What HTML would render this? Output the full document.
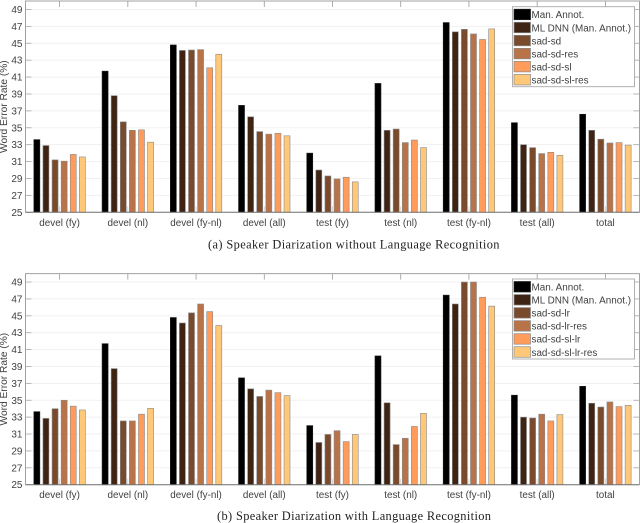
<!DOCTYPE html>
<html>
<head>
<meta charset="utf-8">
<style>
html,body{margin:0;padding:0;background:#fff;}
svg{display:block;filter:blur(0.35px);}
text{font-family:"Liberation Sans",sans-serif;fill:#404040;font-size:9.9px;}
.cap{font-family:"Liberation Serif",serif;fill:#222;font-size:12.4px;}
</style>
</head>
<body>
<svg id="fig" width="640" height="523" viewBox="0 0 640 523" xmlns="http://www.w3.org/2000/svg">
<text class="cap" x="208" y="248.5" textLength="291.5" lengthAdjust="spacing">(a) Speaker Diarization without Language Recognition</text>
<text class="cap" x="217" y="520" textLength="274" lengthAdjust="spacing">(b) Speaker Diarization with Language Recognition</text>
</svg>
<script>
const categories = ['devel (fy)','devel (nl)','devel (fy-nl)','devel (all)','test (fy)','test (nl)','test (fy-nl)','test (all)','total'];
const yTicks = [25,27,29,31,33,35,37,39,41,43,45,47,49];
const colors = ['#000000','#3f2414','#7a4a2c','#b87348','#ff9c5c','#ffc878'];
const legendA = ['Man. Annot.','ML DNN (Man. Annot.)','sad-sd','sad-sd-res','sad-sd-sl','sad-sd-sl-res'];
const legendB = ['Man. Annot.','ML DNN (Man. Annot.)','sad-sd-lr','sad-sd-lr-res','sad-sd-sl-lr','sad-sd-sl-lr-res'];

const a1 = [33.6,41.7,44.8,37.65,32,40.25,47.45,35.6,36.6];
const a2 = [32.9,38.8,44.15,36.3,30,34.7,46.35,33,34.7];
const a3 = [31.2,35.7,44.2,34.55,29.3,34.85,46.65,32.65,33.65];
const a4 = [31.05,34.7,44.25,34.25,28.95,33.25,46.1,31.95,33.2];
const a5 = [31.85,34.75,42.1,34.35,29.15,33.55,45.45,32.1,33.25];
const a6 = [31.55,33.3,43.7,34.05,28.6,32.65,46.7,31.75,32.95];

const b1 = [33.65,41.7,44.8,37.65,32,40.25,47.45,35.6,36.65];
const b2 = [32.85,38.75,44.15,36.35,30,34.7,46.4,33,34.65];
const b3 = [34,32.55,45.35,35.45,30.95,29.75,49,32.9,34.2];
const b4 = [35,32.55,46.4,36.2,31.4,30.5,49,33.35,34.8];
const b5 = [34.3,33.35,45.5,35.9,30.1,31.9,47.2,32.55,34.25];
const b6 = [33.85,34.05,43.85,35.55,30.95,33.45,46.15,33.3,34.4];

const NS = 'http://www.w3.org/2000/svg';
const fig = document.getElementById('fig');

function mk(parent, tag, attrs) {
  const el = document.createElementNS(NS, tag);
  for (const k in attrs) el.setAttribute(k, attrs[k]);
  parent.appendChild(el);
  return el;
}

function drawChart(name, top, bottom, series, legend, legendTop) {
  const left = 25.5, right = 639.5;
  const yMin = 25, yMax = 50;
  const yScale = v => bottom - (v - yMin) * (bottom - top) / (yMax - yMin);
  const step = (right - left) / categories.length;
  const xScale = i => left + step * (i + 0.5);
  const barStep = 9.1, barW = 6;

  const g = mk(fig, 'g', {});
  
  

  yTicks.forEach(t => {
    const y = yScale(t);
    const grid = mk(g, 'line', {x1:left, x2:right, y1:y, y2:y, stroke:'#f1f1f1', 'stroke-width':1});
    
    
    const lt = mk(g, 'line', {x1:left, x2:left+6, y1:y, y2:y, stroke:'#a8a8a8', 'stroke-width':0.8});
    
    
    const rt = mk(g, 'line', {x1:right-6, x2:right, y1:y, y2:y, stroke:'#a8a8a8', 'stroke-width':0.8});
    
    
    const lab = mk(g, 'text', {x:22.5, y:y+3.5, 'text-anchor':'end'});
    lab.textContent = t;
    lab.style.fontSize = '10px';
    
    
  });

  categories.forEach((c, i) => {
    const x = xScale(i);
    const tt = mk(g, 'line', {x1:x, x2:x, y1:top, y2:top+6, stroke:'#999', 'stroke-width':0.8});
    
    
    const bt = mk(g, 'line', {x1:x, x2:x, y1:bottom-6, y2:bottom, stroke:'#ccc', 'stroke-width':0.8});
    
    
    const lab = mk(g, 'text', {x:x, y:bottom+13.5, 'text-anchor':'middle'});
    lab.textContent = c;
    
    
  });

  series.forEach((vals, s) => {
    vals.forEach((v, i) => {
      const x = xScale(i) + (s - 2.5) * barStep;
      const y = yScale(v);
      const bar = mk(g, 'rect', {x:x-barW/2, y:y, width:barW, height:bottom-y, fill:colors[s], stroke:s===0?'#222':'#8a8a8a', 'stroke-width':0.6});
      
      
    });
  });

  const box = mk(g, 'path', {d:`M${left} ${bottom}V${top}H${right}V${bottom}`, fill:'none', stroke:'#a0a0a0', 'stroke-width':1});
  
  
  const base = mk(g, 'line', {x1:left, x2:right, y1:bottom, y2:bottom, stroke:'#707070', 'stroke-width':1});
  
  

  const mid = (top + bottom) / 2;
  const title = mk(g, 'text', {x:0, y:0, 'text-anchor':'middle', transform:`translate(7 ${mid}) rotate(-90)`});
  title.textContent = 'Word Error Rate (%)';
  title.style.fontSize = '10.2px';
  
  

  const lg = mk(g, 'g', {});
  
  
  const lb = mk(lg, 'rect', {x:512.5, y:legendTop, width:122, height:80, fill:'#fff', stroke:'#a8a8a8', 'stroke-width':0.9});
  
  
  legend.forEach((name2, s) => {
    const y = legendTop + 2.5 + s * 13.05;
    const sw = mk(lg, 'rect', {x:514, y:y, width:16.5, height:10.5, fill:colors[s], stroke:s===0?'#222':'#8a8a8a', 'stroke-width':0.7});
    
    
    const t = mk(lg, 'text', {x:531.5, y:y+9});
    t.textContent = name2;
    
    
  });
}

drawChart('chart-without-language-recognition', 1, 212.3, [a1,a2,a3,a4,a5,a6], legendA, 6.7);
drawChart('chart-with-language-recognition', 273.6, 484.7, [b1,b2,b3,b4,b5,b6], legendB, 279);
</script>
</body>
</html>
